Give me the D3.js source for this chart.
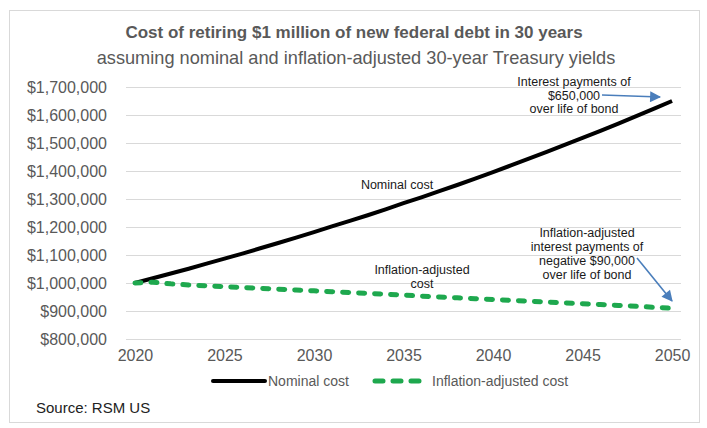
<!DOCTYPE html>
<html>
<head>
<meta charset="utf-8">
<script src="https://cdn.jsdelivr.net/npm/d3@7"></script>
<style>
  body { margin: 0; background: #fff; }
  text { font-family: "Liberation Sans", Arial, sans-serif; }
</style>
</head>
<body>
<script>
// data
var years = d3.range(2020, 2051);
var nominal = [1000000, 1017000, 1034000, 1051000, 1069000, 1087000, 1105000, 1124000, 1143000, 1162000,
               1182000, 1202000, 1222000, 1242000, 1263000, 1285000, 1306000, 1328000, 1350000, 1373000,
               1396000, 1420000, 1444000, 1468000, 1493000, 1518000, 1543000, 1569000, 1596000, 1623000, 1650000];
var adjusted = [1000000, 1003000, 997000, 993000, 990000, 987000, 984000, 981000, 978000, 975000,
                972000, 969000, 966000, 963000, 960000, 957000, 953000, 950000, 947000, 944000,
                941000, 938000, 935000, 932000, 929000, 926000, 923000, 920000, 917000, 913000, 910000];
var yTicks = [800000, 900000, 1000000, 1100000, 1200000, 1300000, 1400000, 1500000, 1600000, 1700000];
var xTickYears = [2020, 2025, 2030, 2035, 2040, 2045, 2050];

var W = 707, H = 428;
var margin = {top: 87, right: 26, bottom: 89, left: 126};
var width = W - margin.left - margin.right,
    height = H - margin.top - margin.bottom;

var svg = d3.select("body").append("svg")
    .attr("width", W)
    .attr("height", H);

// chart frame
svg.append("rect")
    .attr("x", 9.5).attr("y", 10.5)
    .attr("width", 690).attr("height", 412)
    .attr("fill", "#fff").attr("stroke", "#d9d9d9");

// titles
svg.append("text")
    .attr("x", 354).attr("y", 38)
    .attr("text-anchor", "middle")
    .attr("font-size", 17).attr("font-weight", "bold")
    .attr("fill", "#595959")
    .text("Cost of retiring $1 million of new federal debt in 30 years");
svg.append("text")
    .attr("x", 356).attr("y", 64)
    .attr("text-anchor", "middle")
    .attr("font-size", 18.2)
    .attr("fill", "#595959")
    .text("assuming nominal and inflation-adjusted 30-year Treasury yields");

var g = svg.append("g")
    .attr("transform", "translate(" + margin.left + "," + margin.top + ")");

var x = d3.scalePoint().domain(years).range([0, width]).padding(0.5);
var y = d3.scaleLinear().domain([800000, 1700000]).range([height, 0]);

// gridlines
g.append("g")
    .selectAll("line")
    .data(yTicks)
    .join("line")
    .attr("x1", 0).attr("x2", width)
    .attr("y1", function(d) { return Math.round(y(d)) + 0.5; })
    .attr("y2", function(d) { return Math.round(y(d)) + 0.5; })
    .attr("stroke", "#d9d9d9");

// y axis
var yAxis = g.append("g")
    .call(d3.axisLeft(y).tickValues(yTicks).tickSize(0).tickPadding(19)
      .tickFormat(function(d) { return "$" + d3.format(",")(d); }));
yAxis.select(".domain").remove();
yAxis.selectAll("text").attr("font-size", 16).attr("fill", "#595959")
    .style("font-family", "'Liberation Sans', Arial, sans-serif");

// x axis
var xAxis = g.append("g")
    .attr("transform", "translate(0," + height + ")")
    .call(d3.axisBottom(x).tickValues(xTickYears).tickSize(0).tickPadding(11));
xAxis.select(".domain").remove();
xAxis.selectAll("text").attr("font-size", 16).attr("fill", "#595959")
    .style("font-family", "'Liberation Sans', Arial, sans-serif");

// lines
var line = d3.line()
    .x(function(d, i) { return x(years[i]); })
    .y(function(d) { return y(d); });

g.append("path")
    .datum(nominal)
    .attr("fill", "none")
    .attr("stroke", "#000")
    .attr("stroke-width", 4)
    .attr("d", line);

g.append("path")
    .datum(adjusted)
    .attr("fill", "none")
    .attr("stroke", "#1ea84e")
    .attr("stroke-width", 5)
    .attr("stroke-linecap", "round")
    .attr("stroke-dasharray", "6,10")
    .attr("d", line);

// annotations
function block(lines, cx, y0, step) {
  var t = svg.append("text")
      .attr("text-anchor", "middle")
      .attr("font-size", 12.5)
      .attr("fill", "#1a1a1a");
  lines.forEach(function(s, i) {
    t.append("tspan").attr("x", cx).attr("y", y0 + i * step).text(s);
  });
}
block(["Interest payments of", "$650,000", "over life of bond"], 574, 86, 13.5);
block(["Nominal cost"], 397, 189, 14);
block(["Inflation-adjusted", "cost"], 422, 274, 14);
block(["Inflation-adjusted", "interest payments of", "negative $90,000", "over life of bond"], 587, 237, 14);

svg.append("defs").append("marker")
    .attr("id", "arrow")
    .attr("viewBox", "0 0 10 10")
    .attr("refX", 9).attr("refY", 5)
    .attr("markerWidth", 13).attr("markerHeight", 11)
    .attr("orient", "auto")
    .attr("markerUnits", "userSpaceOnUse")
  .append("path")
    .attr("d", "M0,0L10,5L0,10z")
    .attr("fill", "#4a7ebb");

svg.append("line")
    .attr("x1", 602).attr("y1", 95).attr("x2", 660).attr("y2", 97)
    .attr("stroke", "#4a7ebb").attr("stroke-width", 1.6)
    .attr("marker-end", "url(#arrow)");
svg.append("line")
    .attr("x1", 637).attr("y1", 258).attr("x2", 672).attr("y2", 301)
    .attr("stroke", "#4a7ebb").attr("stroke-width", 1.6)
    .attr("marker-end", "url(#arrow)");

// legend
var legend = svg.append("g");
legend.append("line")
    .attr("x1", 213).attr("x2", 265).attr("y1", 381).attr("y2", 381)
    .attr("stroke", "#000").attr("stroke-width", 4).attr("stroke-linecap", "round");
legend.append("text")
    .attr("x", 268).attr("y", 386)
    .attr("font-size", 14).attr("fill", "#595959")
    .text("Nominal cost");
legend.append("line")
    .attr("x1", 375).attr("x2", 419).attr("y1", 381).attr("y2", 381)
    .attr("stroke", "#1ea84e").attr("stroke-width", 5)
    .attr("stroke-linecap", "round").attr("stroke-dasharray", "8,10");
legend.append("text")
    .attr("x", 432).attr("y", 386)
    .attr("font-size", 14).attr("fill", "#595959")
    .text("Inflation-adjusted cost");

// source
svg.append("text")
    .attr("x", 36).attr("y", 413)
    .attr("font-size", 15).attr("fill", "#222")
    .text("Source: RSM US");
</script>
</body>
</html>
